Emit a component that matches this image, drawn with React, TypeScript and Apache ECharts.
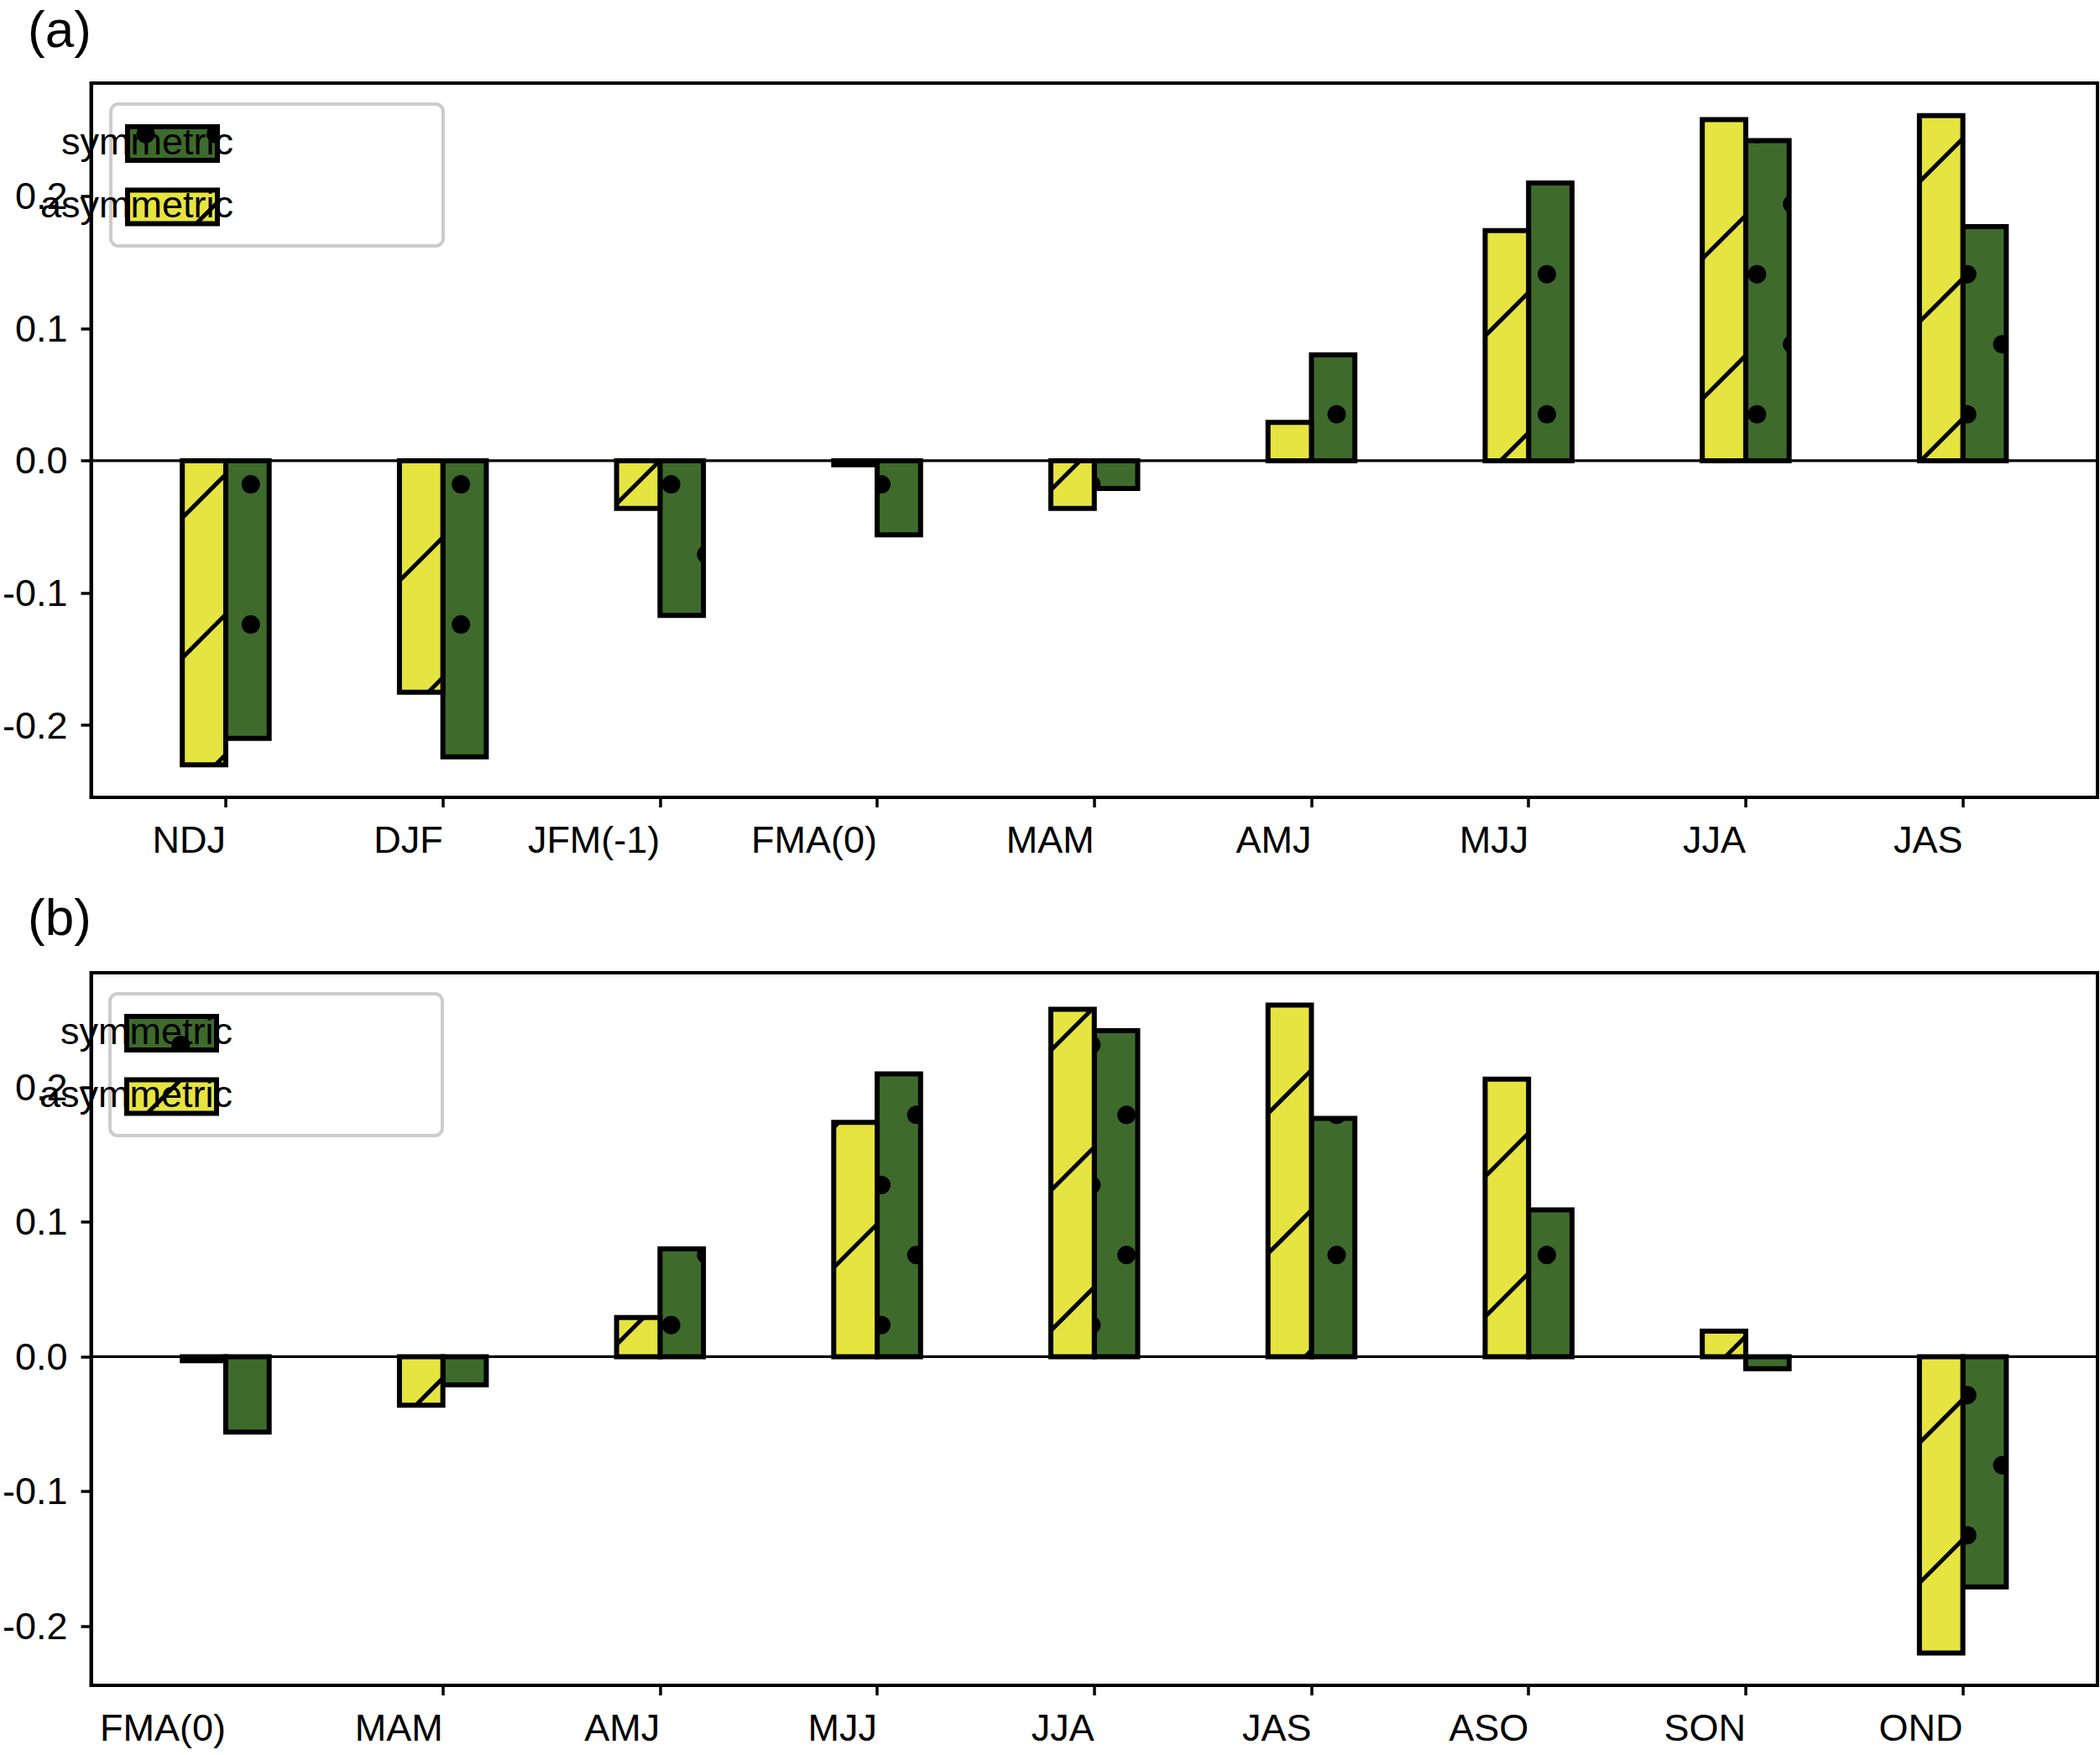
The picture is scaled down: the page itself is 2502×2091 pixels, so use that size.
import React, { useEffect, useRef } from 'react';
import * as echarts from 'echarts';

const W = 2502;
const H = 2091;

// ---------- data ----------
const catsA = ['NDJ', 'DJF', 'JFM(-1)', 'FMA(0)', 'MAM', 'AMJ', 'MJJ', 'JJA', 'JAS'];
const symA = [-0.210, -0.224, -0.117, -0.056, -0.021, 0.080, 0.210, 0.242, 0.177];
const asymA = [-0.230, -0.175, -0.036, -0.003, -0.036, 0.029, 0.174, 0.258, 0.261];

const catsB = ['FMA(0)', 'MAM', 'AMJ', 'MJJ', 'JJA', 'JAS', 'ASO', 'SON', 'OND'];
const symB = [-0.056, -0.021, 0.080, 0.210, 0.242, 0.177, 0.109, -0.009, -0.171];
const asymB = [-0.003, -0.036, 0.029, 0.174, 0.258, 0.261, 0.206, 0.019, -0.220];

const yTickValues = [-0.2, -0.1, 0.0, 0.1, 0.2];
const xLabelValues = [0, 1, 2, 3, 4, 5, 6, 7, 8];
const xTickValuesA = [0, 1, 2, 3, 4, 5, 6, 7, 8];
const xTickValuesB = [1, 2, 3, 4, 5, 6, 7, 8];

const legendNames = ['symmetric', 'asymmetric'];

// ---------- style ----------
const YELLOW = '#e6e440';
const GREEN = '#3e6b2c';
const FONT = "'Liberation Sans', Arial, Helvetica, sans-serif";
const TICK_FS = 45;
const TITLE_FS = 62;
const BAR_W = 0.2;
const XMIN = -0.62;
const XMAX = 8.62;
const EDGE_LW = 6;
const HATCH_LW = 5;
const DOT_R = 11;

// global hatch lattice (figure-anchored, like matplotlib)
const P = 83.47;
const OX = 340.5;
const OY = 827.5;
const HSP = 2 * P;

function hatchSegments(x0: number, y0: number, x1: number, y1: number) {
  const out: number[][] = [];
  const base = OX + OY;
  const nMin = Math.ceil((x0 + y0 - base) / HSP);
  const nMax = Math.floor((x1 + y1 - base) / HSP);
  for (let n = nMin; n <= nMax; n++) {
    const c = base + n * HSP;
    const xa = Math.max(x0, c - y1);
    const xb = Math.min(x1, c - y0);
    if (xb > xa + 0.5) out.push([xa, c - xa, xb, c - xb]);
  }
  return out;
}

function dotPolys(x0: number, y0: number, x1: number, y1: number) {
  const out: number[][][] = [];
  const r = DOT_R;
  const kMin = Math.ceil((y0 - r - OY) / P);
  const kMax = Math.floor((y1 + r - OY) / P);
  for (let k = kMin; k <= kMax; k++) {
    const cy = OY + k * P;
    const shift = ((k % 2) + 2) % 2 === 1 ? P / 2 : 0;
    const jMin = Math.ceil((x0 - r - OX - shift) / P);
    const jMax = Math.floor((x1 + r - OX - shift) / P);
    for (let j = jMin; j <= jMax; j++) {
      const cx = OX + shift + j * P;
      const pts: number[][] = [];
      for (let s = 0; s < 28; s++) {
        const a = (s / 28) * Math.PI * 2;
        const px = Math.min(x1, Math.max(x0, cx + r * Math.cos(a)));
        const py = Math.min(y1, Math.max(y0, cy + r * Math.sin(a)));
        pts.push([px, py]);
      }
      out.push(pts);
    }
  }
  return out;
}

function filledRect(kind: 'hatch' | 'dots', x0: number, y0: number, x1: number, y1: number, zBase = 0) {
  const children: any[] = [];
  children.push({
    type: 'rect',
    z: zBase,
    z2: 0,
    shape: { x: x0, y: y0, width: x1 - x0, height: y1 - y0 },
    style: { fill: kind === 'hatch' ? YELLOW : GREEN, stroke: null },
  });
  if (kind === 'hatch') {
    for (const [xa, ya, xb, yb] of hatchSegments(x0, y0, x1, y1)) {
      children.push({
        type: 'line',
        z: zBase + 1,
        z2: 1,
        shape: { x1: xa, y1: ya, x2: xb, y2: yb },
        style: { stroke: '#000', lineWidth: HATCH_LW, fill: null },
      });
    }
  } else {
    for (const pts of dotPolys(x0, y0, x1, y1)) {
      children.push({
        type: 'polygon',
        z: zBase + 1,
        z2: 1,
        shape: { points: pts },
        style: { fill: '#000', stroke: null },
      });
    }
  }
  children.push({
    type: 'rect',
    z: zBase + 2,
    z2: 2,
    shape: { x: x0, y: y0, width: x1 - x0, height: y1 - y0 },
    style: { fill: 'none', stroke: '#000', lineWidth: EDGE_LW },
  });
  return children;
}

function barRenderer(off0: number, off1: number, kind: 'hatch' | 'dots') {
  return (_params: any, api: any) => {
    const x = api.value(0);
    const v = api.value(1);
    const pA = api.coord([x + off0, 0]);
    const pB = api.coord([x + off1, v]);
    const x0 = Math.min(pA[0], pB[0]);
    const x1 = Math.max(pA[0], pB[0]);
    const y0 = Math.min(pA[1], pB[1]);
    const y1 = Math.max(pA[1], pB[1]);
    return { type: 'group', children: filledRect(kind, x0, y0, x1, y1) };
  };
}

const zeroLineRenderer = (_params: any, api: any) => {
  const p0 = api.coord([XMIN, 0]);
  const p1 = api.coord([XMAX, 0]);
  return {
    type: 'line',
    shape: { x1: p0[0], y1: p0[1], x2: p1[0], y2: p1[1] },
    style: { stroke: '#000', lineWidth: 3.4 },
  };
};

const panels = [
  { cats: catsA, sym: symA, asym: asymA, ticks: xTickValuesA, label: '(a)', left: 107, top: 99, height: 851, titleY: 34 },
  { cats: catsB, sym: symB, asym: asymB, ticks: xTickValuesB, label: '(b)', left: 106, top: 1159, height: 849, titleY: 1092 },
];

function buildOption() {
  const grid: any[] = [];
  const xAxis: any[] = [];
  const yAxis: any[] = [];
  const series: any[] = [];
  const graphic: any[] = [];

  panels.forEach((p, gi) => {
    const all = [...p.sym, ...p.asym, 0];
    const lo = Math.min(...all);
    const hi = Math.max(...all);
    const pad = 0.05 * (hi - lo);
    grid.push({
      left: p.left,
      top: p.top,
      width: 2499 - p.left,
      height: p.height,
      show: true,
      borderColor: '#000',
      borderWidth: 4,
      backgroundColor: 'transparent',
      containLabel: false,
    });
    xAxis.push({
      gridIndex: gi,
      type: 'value',
      min: XMIN,
      max: XMAX,
      axisLine: { show: true, onZero: false, lineStyle: { color: '#000', width: 4 } },
      axisTick: {
        show: true,
        customValues: p.ticks,
        length: 12,
        lineStyle: { color: '#000', width: 3.5 },
      },
      axisLabel: {
        show: true,
        customValues: xLabelValues,
        formatter: (v: number) => p.cats[Math.round(v)] ?? '',
        align: 'right',
        margin: 28,
        fontSize: TICK_FS,
        fontFamily: FONT,
        color: '#000',
      },
      splitLine: { show: false },
    });
    yAxis.push({
      gridIndex: gi,
      type: 'value',
      min: lo - pad,
      max: hi + pad,
      axisLine: { show: true, onZero: false, lineStyle: { color: '#000', width: 4 } },
      axisTick: {
        show: true,
        customValues: yTickValues,
        length: 12,
        lineStyle: { color: '#000', width: 3.5 },
      },
      axisLabel: {
        show: true,
        customValues: yTickValues,
        formatter: (v: number) => (Math.abs(v) < 1e-9 ? '0.0' : v.toFixed(1)),
        margin: 28,
        fontSize: TICK_FS,
        fontFamily: FONT,
        color: '#000',
      },
      splitLine: { show: false },
    });

    series.push({
      type: 'custom',
      name: 'zero' + gi,
      coordinateSystem: 'cartesian2d',
      xAxisIndex: gi,
      yAxisIndex: gi,
      data: [[0, 0]],
      renderItem: zeroLineRenderer,
      silent: true,
      z: 1,
    });
    series.push({
      type: 'custom',
      name: legendNames[0],
      coordinateSystem: 'cartesian2d',
      xAxisIndex: gi,
      yAxisIndex: gi,
      data: p.sym.map((v, i) => [i, v]),
      renderItem: barRenderer(0, BAR_W, 'dots'),
      silent: true,
      z: 2,
    });
    series.push({
      type: 'custom',
      name: legendNames[1],
      coordinateSystem: 'cartesian2d',
      xAxisIndex: gi,
      yAxisIndex: gi,
      data: p.asym.map((v, i) => [i, v]),
      renderItem: barRenderer(-BAR_W, 0, 'hatch'),
      silent: true,
      z: 3,
    });

    // panel label
    graphic.push({
      type: 'text',
      z: 100,
      style: {
        text: p.label,
        x: 33,
        y: p.titleY,
        font: `${TITLE_FS}px ${FONT}`,
        fill: '#000',
        textAlign: 'left',
        textVerticalAlign: 'middle',
        align: 'left',
        verticalAlign: 'middle',
      },
    });

    // legend
    const bx = p.left + 25;
    const by = p.top + 25;
    graphic.push({
      type: 'rect',
      z: 100,
      shape: { x: bx, y: by, width: 396, height: 169, r: 9 },
      style: { fill: 'rgba(255,255,255,0.8)', stroke: '#cccccc', lineWidth: 4 },
    });
    const sx0 = p.left + 45;
    const sx1 = sx0 + 107;
    const swY = [p.top + 52, p.top + 127.5];
    const kinds: ('dots' | 'hatch')[] = ['dots', 'hatch'];
    kinds.forEach((k, li) => {
      filledRect(k, sx0, swY[li], sx1, swY[li] + 40, 110).forEach((el) => {
        const { z2, ...rest } = el;
        graphic.push(rest);
      });
      graphic.push({
        type: 'text',
        z: 120,
        style: {
          text: legendNames[li],
          x: p.left + 171,
          y: swY[li] + 20 - 3,
          font: `${TICK_FS}px ${FONT}`,
          fill: '#000',
          textAlign: 'right',
          textVerticalAlign: 'middle',
          align: 'right',
          verticalAlign: 'middle',
        },
      });
    });
  });

  return {
    animation: false,
    backgroundColor: '#ffffff',
    grid,
    xAxis,
    yAxis,
    series,
    graphic,
  };
}

export default function App() {
  const ref = useRef<HTMLDivElement>(null);
  useEffect(() => {
    if (!ref.current) return;
    document.body.style.margin = '0';
    const chart = echarts.init(ref.current, null, { renderer: 'svg', width: W, height: H });
    chart.setOption(buildOption() as any);
    return () => {
      chart.dispose();
    };
  }, []);
  return (
    <div
      ref={ref}
      style={{ position: 'absolute', left: 0, top: 0, width: W, height: H, background: '#fff' }}
    />
  );
}
